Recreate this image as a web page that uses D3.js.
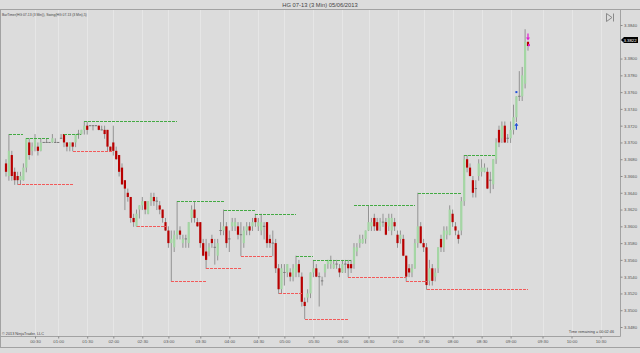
<!DOCTYPE html>
<html>
<head>
<meta charset="utf-8">
<script src="https://cdn.jsdelivr.net/npm/d3@7"></script>
<style>
  body { margin: 0; background: #dcdcdc; }
  text { font-family: "Liberation Sans", Arial, sans-serif; }
</style>
</head>
<body>
<div id="chart"></div>
<script>
// Data: 3 min bars of HG 07-13, 05/06/2013
const opens = [
  3.3675, 3.3660, 3.3685, 3.3665, 3.3660, 3.3655, 3.3655, 3.3670, 3.3700, 3.3690,
  3.3695, 3.3695, 3.3690, 3.3700, 3.3700, 3.3700, 3.3700, 3.3700, 3.3700, 3.3705,
  3.3710, 3.3700, 3.3695, 3.3700, 3.3700, 3.3710, 3.3710, 3.3715, 3.3720, 3.3720,
  3.3720, 3.3720, 3.3720, 3.3715, 3.3715, 3.3715, 3.3695, 3.3700, 3.3690, 3.3685,
  3.3670, 3.3655, 3.3640, 3.3635, 3.3610, 3.3600, 3.3620, 3.3625, 3.3630, 3.3615,
  3.3630, 3.3635, 3.3630, 3.3625, 3.3620, 3.3605, 3.3595, 3.3580, 3.3575, 3.3590,
  3.3595, 3.3580, 3.3585, 3.3580, 3.3610, 3.3620, 3.3605, 3.3605, 3.3580, 3.3570,
  3.3570, 3.3585, 3.3575, 3.3565, 3.3595, 3.3595, 3.3600, 3.3585, 3.3600, 3.3600,
  3.3600, 3.3590, 3.3580, 3.3595, 3.3600, 3.3600, 3.3610, 3.3600, 3.3595, 3.3600,
  3.3605, 3.3585, 3.3580, 3.3580, 3.3550, 3.3525, 3.3545, 3.3545, 3.3545, 3.3540,
  3.3545, 3.3555, 3.3540, 3.3510, 3.3515, 3.3520, 3.3545, 3.3550, 3.3540, 3.3535,
  3.3545, 3.3555, 3.3555, 3.3550, 3.3555, 3.3550, 3.3545, 3.3555, 3.3555, 3.3555,
  3.3555, 3.3570, 3.3580, 3.3580, 3.3585, 3.3595, 3.3600, 3.3610, 3.3605, 3.3600,
  3.3605, 3.3605, 3.3600, 3.3595, 3.3605, 3.3590, 3.3585, 3.3585, 3.3565, 3.3550,
  3.3545, 3.3550, 3.3580, 3.3600, 3.3580, 3.3575, 3.3535, 3.3550, 3.3540, 3.3550,
  3.3585, 3.3575, 3.3590, 3.3590, 3.3615, 3.3600, 3.3590, 3.3595, 3.3630, 3.3680,
  3.3670, 3.3655, 3.3645, 3.3660, 3.3665, 3.3665, 3.3665, 3.3655, 3.3650, 3.3680,
  3.3715, 3.3705, 3.3720, 3.3705, 3.3705, 3.3715, 3.3730, 3.3755, 3.3755, 3.3770,
  3.3820
]
const highs = [
  3.3680, 3.3710, 3.3690, 3.3670, 3.3665, 3.3665, 3.3675, 3.3705, 3.3705, 3.3700,
  3.3710, 3.3700, 3.3705, 3.3700, 3.3705, 3.3700, 3.3710, 3.3705, 3.3700, 3.3710,
  3.3710, 3.3700, 3.3700, 3.3700, 3.3710, 3.3715, 3.3715, 3.3725, 3.3725, 3.3720,
  3.3720, 3.3720, 3.3720, 3.3720, 3.3720, 3.3715, 3.3695, 3.3720, 3.3695, 3.3685,
  3.3675, 3.3655, 3.3645, 3.3635, 3.3615, 3.3620, 3.3625, 3.3635, 3.3630, 3.3630,
  3.3640, 3.3640, 3.3635, 3.3630, 3.3620, 3.3610, 3.3600, 3.3595, 3.3595, 3.3630,
  3.3600, 3.3590, 3.3590, 3.3605, 3.3625, 3.3630, 3.3610, 3.3605, 3.3585, 3.3585,
  3.3580, 3.3590, 3.3585, 3.3585, 3.3605, 3.3620, 3.3605, 3.3595, 3.3610, 3.3610,
  3.3605, 3.3605, 3.3600, 3.3605, 3.3605, 3.3610, 3.3615, 3.3610, 3.3615, 3.3605,
  3.3605, 3.3590, 3.3595, 3.3585, 3.3555, 3.3555, 3.3555, 3.3555, 3.3550, 3.3555,
  3.3565, 3.3560, 3.3545, 3.3515, 3.3525, 3.3545, 3.3560, 3.3555, 3.3545, 3.3540,
  3.3555, 3.3560, 3.3565, 3.3560, 3.3560, 3.3555, 3.3560, 3.3560, 3.3560, 3.3560,
  3.3580, 3.3580, 3.3590, 3.3590, 3.3595, 3.3625, 3.3610, 3.3615, 3.3610, 3.3610,
  3.3615, 3.3610, 3.3615, 3.3615, 3.3610, 3.3595, 3.3595, 3.3590, 3.3565, 3.3555,
  3.3555, 3.3585, 3.3640, 3.3605, 3.3585, 3.3580, 3.3560, 3.3555, 3.3550, 3.3575,
  3.3590, 3.3600, 3.3600, 3.3625, 3.3620, 3.3605, 3.3595, 3.3635, 3.3685, 3.3685,
  3.3675, 3.3660, 3.3655, 3.3680, 3.3680, 3.3675, 3.3670, 3.3665, 3.3680, 3.3705,
  3.3720, 3.3725, 3.3725, 3.3710, 3.3725, 3.3745, 3.3755, 3.3785, 3.3790, 3.3835,
  3.3820
]
const lows = [
  3.3660, 3.3655, 3.3655, 3.3650, 3.3650, 3.3650, 3.3655, 3.3665, 3.3680, 3.3685,
  3.3690, 3.3685, 3.3690, 3.3700, 3.3700, 3.3700, 3.3700, 3.3700, 3.3700, 3.3705,
  3.3695, 3.3690, 3.3690, 3.3690, 3.3695, 3.3705, 3.3710, 3.3710, 3.3710, 3.3720,
  3.3715, 3.3720, 3.3715, 3.3715, 3.3705, 3.3690, 3.3690, 3.3685, 3.3680, 3.3660,
  3.3650, 3.3620, 3.3630, 3.3605, 3.3600, 3.3600, 3.3610, 3.3620, 3.3615, 3.3615,
  3.3625, 3.3625, 3.3620, 3.3615, 3.3605, 3.3595, 3.3575, 3.3535, 3.3570, 3.3585,
  3.3585, 3.3575, 3.3575, 3.3575, 3.3605, 3.3605, 3.3600, 3.3575, 3.3565, 3.3550,
  3.3565, 3.3575, 3.3555, 3.3560, 3.3590, 3.3590, 3.3575, 3.3570, 3.3595, 3.3595,
  3.3585, 3.3565, 3.3575, 3.3590, 3.3590, 3.3595, 3.3600, 3.3595, 3.3590, 3.3585,
  3.3575, 3.3575, 3.3565, 3.3545, 3.3520, 3.3520, 3.3530, 3.3540, 3.3535, 3.3535,
  3.3540, 3.3540, 3.3505, 3.3490, 3.3510, 3.3515, 3.3540, 3.3540, 3.3505, 3.3530,
  3.3540, 3.3550, 3.3550, 3.3550, 3.3550, 3.3540, 3.3545, 3.3545, 3.3540, 3.3545,
  3.3550, 3.3565, 3.3575, 3.3580, 3.3580, 3.3595, 3.3595, 3.3595, 3.3595, 3.3595,
  3.3600, 3.3590, 3.3595, 3.3590, 3.3595, 3.3575, 3.3580, 3.3565, 3.3535, 3.3540,
  3.3540, 3.3550, 3.3575, 3.3580, 3.3570, 3.3525, 3.3530, 3.3530, 3.3535, 3.3545,
  3.3570, 3.3570, 3.3585, 3.3590, 3.3600, 3.3590, 3.3580, 3.3590, 3.3625, 3.3665,
  3.3660, 3.3635, 3.3635, 3.3655, 3.3660, 3.3665, 3.3645, 3.3640, 3.3645, 3.3675,
  3.3695, 3.3700, 3.3700, 3.3700, 3.3700, 3.3710, 3.3725, 3.3750, 3.3750, 3.3765,
  3.3810
]
const closes = [
  3.3665, 3.3690, 3.3660, 3.3655, 3.3655, 3.3660, 3.3670, 3.3705, 3.3685, 3.3695,
  3.3705, 3.3690, 3.3700, 3.3700, 3.3700, 3.3700, 3.3705, 3.3700, 3.3700, 3.3705,
  3.3700, 3.3695, 3.3700, 3.3695, 3.3710, 3.3710, 3.3715, 3.3720, 3.3715, 3.3720,
  3.3720, 3.3720, 3.3715, 3.3715, 3.3710, 3.3695, 3.3690, 3.3690, 3.3680, 3.3665,
  3.3650, 3.3645, 3.3635, 3.3610, 3.3605, 3.3615, 3.3625, 3.3630, 3.3620, 3.3630,
  3.3635, 3.3630, 3.3630, 3.3620, 3.3610, 3.3595, 3.3580, 3.3585, 3.3590, 3.3595,
  3.3590, 3.3585, 3.3585, 3.3605, 3.3620, 3.3610, 3.3600, 3.3580, 3.3565, 3.3560,
  3.3575, 3.3580, 3.3575, 3.3580, 3.3595, 3.3600, 3.3580, 3.3585, 3.3605, 3.3605,
  3.3590, 3.3590, 3.3595, 3.3600, 3.3595, 3.3605, 3.3605, 3.3605, 3.3605, 3.3600,
  3.3580, 3.3580, 3.3580, 3.3550, 3.3525, 3.3550, 3.3545, 3.3555, 3.3540, 3.3550,
  3.3555, 3.3545, 3.3510, 3.3505, 3.3520, 3.3545, 3.3550, 3.3540, 3.3540, 3.3535,
  3.3555, 3.3560, 3.3560, 3.3555, 3.3555, 3.3545, 3.3555, 3.3555, 3.3550, 3.3550,
  3.3575, 3.3575, 3.3585, 3.3585, 3.3595, 3.3605, 3.3605, 3.3600, 3.3595, 3.3605,
  3.3605, 3.3590, 3.3610, 3.3610, 3.3600, 3.3580, 3.3590, 3.3565, 3.3540, 3.3545,
  3.3550, 3.3580, 3.3600, 3.3580, 3.3575, 3.3530, 3.3550, 3.3535, 3.3545, 3.3575,
  3.3575, 3.3595, 3.3595, 3.3620, 3.3605, 3.3595, 3.3585, 3.3630, 3.3680, 3.3670,
  3.3660, 3.3640, 3.3645, 3.3675, 3.3670, 3.3670, 3.3645, 3.3655, 3.3680, 3.3700,
  3.3700, 3.3720, 3.3700, 3.3705, 3.3715, 3.3730, 3.3755, 3.3755, 3.3780, 3.3820,
  3.3815
]

// Swing(5) levels: price, first bar, last bar
const swingHighPrice = [3.3710, 3.3705, 3.3710, 3.3725, 3.3630, 3.3620, 3.3615, 3.3565, 3.3560, 3.3625, 3.3640, 3.3685]
const swingHighFrom  = [1, 7, 20, 27, 59, 75, 86, 100, 106, 120, 142, 158]
const swingHighTo    = [6, 15, 26, 59, 75, 86, 100, 106, 119, 141, 157, 169]
const swingLowPrice  = [3.3650, 3.3690, 3.3600, 3.3535, 3.3550, 3.3565, 3.3520, 3.3490, 3.3540, 3.3535, 3.3525]
const swingLowFrom   = [4, 23, 45, 57, 69, 81, 94, 103, 118, 138, 145]
const swingLowTo     = [23, 37, 55, 69, 81, 92, 102, 118, 138, 145, 180]

// Time axis labels and the bar each one falls on
const timeLabels = ['00:30', '01:00', '01:30', '02:00', '02:30', '03:00', '03:30', '04:00', '04:30', '05:00', '05:30',
                    '06:00', '06:30', '07:00', '07:30', '08:00', '08:30', '09:00', '09:30', '10:00', '10:30']
const timeBars = [10, 18, 28, 37, 47, 56, 67, 77, 87, 96, 106, 116, 125, 135, 144, 154, 164, 174, 185, 195, 205]

// 3.3820 sits under the last price box, so it is not labelled
const priceTicks = [3.3480, 3.3500, 3.3520, 3.3540, 3.3560, 3.3580, 3.3600, 3.3620, 3.3640,
                    3.3660, 3.3680, 3.3700, 3.3720, 3.3740, 3.3760, 3.3780, 3.3800, 3.3840]
const lastPrice = 3.3822

const width = 640, height = 353
const plot = { left: 0.5, right: 620.5, top: 9.5, bottom: 336.5 }

const svg = d3.select('#chart').append('svg')
  .attr('width', width)
  .attr('height', height)
  .style('display', 'block')

svg.append('rect').attr('width', width).attr('height', height).attr('fill', '#dcdcdc')

// Scales
const x = d3.scaleLinear().domain([10, 205]).range([35, 600.5])
const y = d3.scaleLinear().domain([3.3480, 3.3840]).range([327, 25])

// Vertical grid at time labels
svg.append('g')
  .selectAll('line')
  .data(timeBars)
  .join('line')
  .attr('x1', d => Math.round(x(d)) + 0.5)
  .attr('x2', d => Math.round(x(d)) + 0.5)
  .attr('y1', plot.top)
  .attr('y2', plot.bottom)
  .attr('stroke', '#e6e6e6')

// Frame
const frame = svg.append('g').attr('stroke', '#a2a2a2').attr('fill', 'none')
frame.append('line').attr('x1', 0).attr('x2', width).attr('y1', plot.top).attr('y2', plot.top)
frame.append('line').attr('x1', plot.left).attr('x2', plot.left).attr('y1', plot.top).attr('y2', 347.5)
frame.append('line').attr('x1', 0).attr('x2', width).attr('y1', 347.5).attr('y2', 347.5)
frame.append('line').attr('x1', plot.right).attr('x2', plot.right).attr('y1', plot.top).attr('y2', plot.bottom)
frame.append('line').attr('x1', 0).attr('x2', plot.right).attr('y1', plot.bottom).attr('y2', plot.bottom)

// Axes
const xAxis = svg.append('g')
  .attr('transform', `translate(0,${plot.bottom})`)
  .call(d3.axisBottom(x).tickValues(timeBars).tickSize(2).tickPadding(1.5)
    .tickFormat((d, i) => timeLabels[i]))
xAxis.select('.domain').remove()
xAxis.selectAll('line').attr('stroke', '#8a8a8a')
xAxis.selectAll('text').attr('font-size', 4.3).attr('fill', '#555')

const yAxis = svg.append('g')
  .attr('transform', `translate(${plot.right},0)`)
  .call(d3.axisRight(y).tickValues(priceTicks).tickSize(2).tickPadding(1.5)
    .tickFormat(d3.format('.4f')))
yAxis.select('.domain').remove()
yAxis.selectAll('line').attr('stroke', '#8a8a8a')
yAxis.selectAll('text').attr('font-size', 4.3).attr('fill', '#555')

// Candles
const bars = d3.range(opens.length)
const upColor = '#a4d6a4', downColor = '#b80000', wickColor = '#939393'

svg.append('g')
  .selectAll('line')
  .data(bars)
  .join('line')
  .attr('x1', i => x(i))
  .attr('x2', i => x(i))
  .attr('y1', i => y(highs[i]))
  .attr('y2', i => y(lows[i]) + 0.5)
  .attr('stroke', wickColor)
  .attr('stroke-width', 1)

svg.append('g')
  .selectAll('rect')
  .data(bars.filter(i => opens[i] !== closes[i]))
  .join('rect')
  .attr('x', i => x(i) - 1.1)
  .attr('width', 2.2)
  .attr('y', i => y(Math.max(opens[i], closes[i])))
  .attr('height', i => Math.max(1, Math.abs(y(opens[i]) - y(closes[i]))))
  .attr('fill', i => closes[i] > opens[i] ? upColor : downColor)

svg.append('g')
  .selectAll('line')
  .data(bars.filter(i => opens[i] === closes[i]))
  .join('line')
  .attr('x1', i => x(i) - 1.2)
  .attr('x2', i => x(i) + 1.2)
  .attr('y1', i => y(closes[i]))
  .attr('y2', i => y(closes[i]))
  .attr('stroke', '#7a7a7a')

// Swing lines
function swingLines(prices, from, to, color) {
  svg.append('g')
    .attr('shape-rendering', 'crispEdges')
    .selectAll('line')
    .data(prices)
    .join('line')
    .attr('x1', (d, i) => Math.round(x(from[i])))
    .attr('x2', (d, i) => Math.round(x(to[i])))
    .attr('y1', d => Math.round(y(d)) + 0.5)
    .attr('y2', d => Math.round(y(d)) + 0.5)
    .attr('stroke', color)
    .attr('stroke-dasharray', '3,1')
}
swingLines(swingHighPrice, swingHighFrom, swingHighTo, '#44aa44')
swingLines(swingLowPrice, swingLowFrom, swingLowTo, '#f25a5a')

// Markers
const upArrow = svg.append('g').attr('transform', `translate(${x(176)},${y(3.3715)})`)
upArrow.append('path').attr('d', 'M0,-7 L-2,-4 L-0.6,-4 L-0.6,0 L0.6,0 L0.6,-4 L2,-4 Z').attr('fill', '#1f4fd6')
svg.append('rect').attr('x', x(176) - 1).attr('y', y(3.3760) - 1).attr('width', 2).attr('height', 2).attr('fill', '#1f4fd6')
const downArrow = svg.append('g').attr('transform', `translate(${x(180)},${y(3.3830)})`)
downArrow.append('path').attr('d', 'M0,7 L-2,4 L-0.6,4 L-0.6,0 L0.6,0 L0.6,4 L2,4 Z').attr('fill', '#e020d0')
svg.append('rect').attr('x', x(180)).attr('y', y(3.3816) - 1).attr('width', 2).attr('height', 2).attr('fill', '#e020d0')

// Last price marker
const ly = y(lastPrice)
svg.append('path')
  .attr('d', `M${plot.right + 0.5},${ly} L${plot.right + 3.5},${ly - 3} L638,${ly - 3} L638,${ly + 3} L${plot.right + 3.5},${ly + 3} Z`)
  .attr('fill', '#000')
svg.append('text')
  .attr('x', 630).attr('y', ly + 1.5)
  .attr('text-anchor', 'middle')
  .attr('font-size', 4.3)
  .attr('fill', '#fff')
  .text(d3.format('.4f')(lastPrice))

// Texts
svg.append('text')
  .attr('x', 320).attr('y', 7.2)
  .attr('text-anchor', 'middle')
  .attr('font-size', 5.8)
  .attr('fill', '#444')
  .text('HG 07-13 (3 Min)  05/06/2013')

svg.append('text')
  .attr('x', 2).attr('y', 15.5)
  .attr('font-size', 3.4)
  .attr('fill', '#444')
  .text('BarTimer(HG 07-13 (3 Min)), Swing(HG 07-13 (3 Min),5)')

svg.append('text')
  .attr('x', 2).attr('y', 334.8)
  .attr('font-size', 3.8)
  .attr('fill', '#444')
  .text('© 2013 NinjaTrader, LLC')

svg.append('text')
  .attr('x', 614).attr('y', 332.5)
  .attr('text-anchor', 'end')
  .attr('font-size', 3.8)
  .attr('fill', '#444')
  .text('Time remaining = 00:02:46')

// Scroll-to-end icon
svg.append('path')
  .attr('d', 'M606.5,13.5 L606.5,21.5 L612,17.5 Z M613.5,13.5 L613.5,21.5')
  .attr('fill', 'none')
  .attr('stroke', '#8a8a8a')
</script>
</body>
</html>
